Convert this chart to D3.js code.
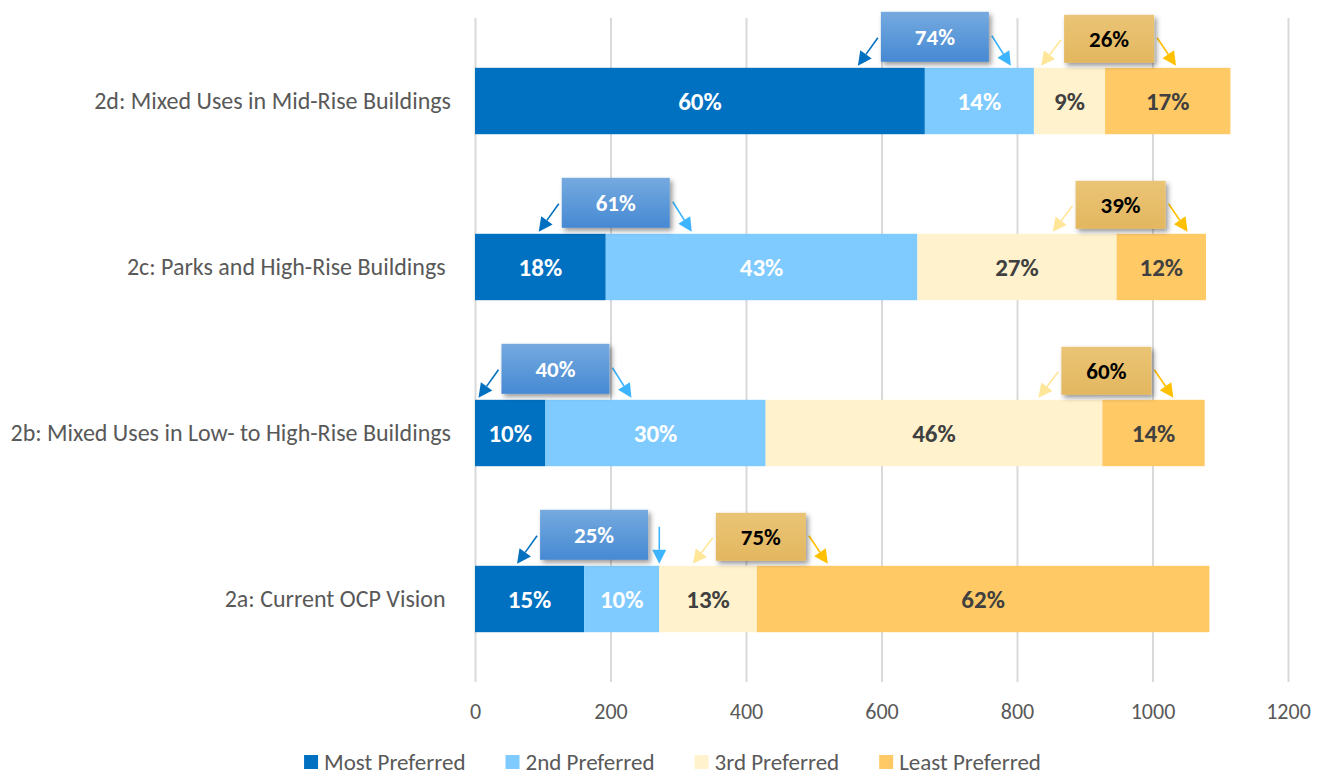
<!DOCTYPE html>
<html>
<head>
<meta charset="utf-8">
<script src="https://cdn.jsdelivr.net/npm/d3@7"></script>
<style>
  body { margin: 0; background: #fff; }
  svg text { font-family: Calibri, Carlito, Lato, "Open Sans", sans-serif; }
</style>
</head>
<body>
<svg id="chart" width="1325" height="778"></svg>
<script>
// Ranking of the four planning concepts (number of respondents per rank)
const categories = [
  "2d: Mixed Uses in Mid-Rise Buildings",
  "2c: Parks and High-Rise Buildings ",
  "2b: Mixed Uses in Low- to High-Rise Buildings",
  "2a: Current OCP Vision "
];
const seriesNames = ["Most Preferred", "2nd Preferred", "3rd Preferred", "Least Preferred"];
const mostPreferred   = [664, 193, 104, 161];
const secondPreferred = [161, 460, 325, 111];
const thirdPreferred  = [105, 294, 497, 144];
const leastPreferred  = [185, 132, 151, 668];
const xTicks = [0, 200, 400, 600, 800, 1000, 1200];

const seriesColors = ["#0070C0", "#7FCBFF", "#FFF2CC", "#FFCA66"];
const labelColors = ["#ffffff", "#ffffff", "#404040", "#404040"];

const svg = d3.select("#chart");
const W = 1325, H = 778;
const plot = { left: 475, right: 1288, top: 18, bottom: 682 };

const rows = categories.map((c, i) => {
  const vals = [mostPreferred[i], secondPreferred[i], thirdPreferred[i], leastPreferred[i]];
  return { category: c, vals, total: d3.sum(vals) };
});

const x = d3.scaleLinear().domain([0, 1200]).range([plot.left, plot.right]);
const y = d3.scaleBand().domain(categories).range([plot.top, plot.bottom])
  .paddingInner(0.6).paddingOuter(0.3);

const defs = svg.append("defs");
const shadow = defs.append("filter").attr("id", "shadow")
  .attr("x", "-20%").attr("y", "-20%").attr("width", "150%").attr("height", "160%");
shadow.append("feDropShadow").attr("dx", 2.5).attr("dy", 3).attr("stdDeviation", 2.5)
  .attr("flood-color", "#000").attr("flood-opacity", 0.4);

const gBlue = defs.append("linearGradient").attr("id", "gradBlue")
  .attr("x1", 0).attr("y1", 0).attr("x2", 0).attr("y2", 1);
gBlue.append("stop").attr("offset", "0%").attr("stop-color", "#75AADF");
gBlue.append("stop").attr("offset", "100%").attr("stop-color", "#4689D3");
const gGold = defs.append("linearGradient").attr("id", "gradGold")
  .attr("x1", 0).attr("y1", 0).attr("x2", 0).attr("y2", 1);
gGold.append("stop").attr("offset", "0%").attr("stop-color", "#EAC475");
gGold.append("stop").attr("offset", "100%").attr("stop-color", "#E3B760");

// Vertical gridlines and value ticks
const xAxis = d3.axisBottom(x).tickValues(xTicks).tickFormat(d3.format("d"))
  .tickSize(-(plot.bottom - plot.top)).tickPadding(21);
const ax = svg.append("g").attr("transform", `translate(0,${plot.bottom})`).call(xAxis);
ax.select(".domain").remove();
ax.selectAll(".tick line").attr("stroke", "#D9D9D9").attr("stroke-width", 2);
ax.selectAll(".tick text").attr("fill", "#595959").attr("font-size", 22);

// Category labels
const yAxis = d3.axisLeft(y).tickSize(0).tickPadding(24);
const ay = svg.append("g").attr("transform", `translate(${plot.left},0)`).call(yAxis);
ay.select(".domain").remove();
ay.selectAll(".tick text").attr("fill", "#595959").attr("font-size", 24)
  .style("white-space", "pre");

// Stacked bars
const stacked = rows.map(r => {
  let acc = 0;
  return r.vals.map((v, k) => {
    const seg = { row: r, k, x0: acc, x1: acc + v, v };
    acc += v;
    return seg;
  });
});

const barG = svg.append("g");
stacked.forEach(segs => {
  const rowG = barG.append("g");
  rowG.selectAll("rect").data(segs).join("rect")
    .attr("x", d => x(d.x0))
    .attr("y", d => y(d.row.category))
    .attr("width", d => x(d.x1) - x(d.x0))
    .attr("height", y.bandwidth())
    .attr("fill", d => seriesColors[d.k]);
  rowG.selectAll("text").data(segs).join("text")
    .attr("x", d => (x(d.x0) + x(d.x1)) / 2)
    .attr("y", d => y(d.row.category) + y.bandwidth() / 2)
    .attr("dy", "0.36em")
    .attr("text-anchor", "middle")
    .attr("font-size", 25).attr("font-weight", "bold")
    .attr("fill", d => labelColors[d.k])
    .text(d => Math.round(d.v / d.row.total * 100) + "%");
});

// Arrow helper: shaft plus filled head
function arrow(g, sx, sy, tx, ty, color) {
  const ang = Math.atan2(ty - sy, tx - sx);
  const len = 14, hw = 7;
  const bx = tx - len * Math.cos(ang), by = ty - len * Math.sin(ang);
  g.append("line").attr("x1", sx).attr("y1", sy).attr("x2", bx).attr("y2", by)
    .attr("stroke", color).attr("stroke-width", 1.6);
  const px = -Math.sin(ang) * hw, py = Math.cos(ang) * hw;
  g.append("path")
    .attr("d", `M${tx},${ty}L${bx + px},${by + py}L${bx - px},${by - py}Z`)
    .attr("fill", color);
}

// Callouts: share of top-two ranks and of bottom-two ranks
const calloutG = svg.append("g");
rows.forEach((r, i) => {
  const top = y(r.category);
  const [a, b, c, d] = r.vals;
  const groups = [
    { pct: Math.round((a + b) / r.total * 100), split: a, end: a + b,
      w: 108, h: 50, dx: 10, gap: 6, fill: "url(#gradBlue)", text: "#ffffff",
      left: "#0070C0", right: "#3DB4FF" },
    { pct: Math.round((c + d) / r.total * 100), split: a + b + c, end: r.total,
      w: 90, h: 48, dx: 4, gap: 5, fill: "url(#gradGold)", text: "#000000",
      left: "#FFE699", right: "#FFC000" }
  ];
  groups.forEach(gp => {
    const cx = x(gp.split) + gp.dx;
    const bx0 = cx - gp.w / 2, bx1 = cx + gp.w / 2;
    const by1 = top - gp.gap, by0 = by1 - gp.h;
    const cy = (by0 + by1) / 2;
    const g = calloutG.append("g");
    // left arrow
    arrow(g, bx0 - 3, cy + 1, bx0 - 23, top - 2, gp.left);
    // right arrow, dropped straight down when the segment ends under the box
    const segEnd = x(gp.end);
    if (bx1 + 23 > segEnd) {
      arrow(g, segEnd, by0 + 17, segEnd, top - 2, gp.right);
    } else {
      arrow(g, bx1 + 3, cy - 1, bx1 + 22, top - 2, gp.right);
    }
    g.append("rect").attr("x", bx0).attr("y", by0).attr("width", gp.w).attr("height", gp.h)
      .attr("fill", gp.fill).attr("filter", "url(#shadow)");
    g.append("text").attr("x", cx).attr("y", cy).attr("dy", "0.36em")
      .attr("text-anchor", "middle").attr("font-size", 23).attr("font-weight", "bold")
      .attr("fill", gp.text).text(gp.pct + "%");
  });
});

// Legend
const legend = svg.append("g");
let lx = 0;
seriesNames.forEach((name, k) => {
  const item = legend.append("g").attr("transform", `translate(${lx},0)`);
  item.append("rect").attr("x", 0).attr("y", -7).attr("width", 14).attr("height", 14)
    .attr("fill", seriesColors[k]);
  const t = item.append("text").attr("x", 20).attr("y", 0).attr("dy", "0.36em")
    .attr("font-size", 23).attr("fill", "#595959").text(name);
  lx += 20 + t.node().getComputedTextLength() + 40;
});
const legendW = lx - 40;
legend.attr("transform", `translate(${(W - legendW) / 2 + 10},762)`);
</script>
</body>
</html>
